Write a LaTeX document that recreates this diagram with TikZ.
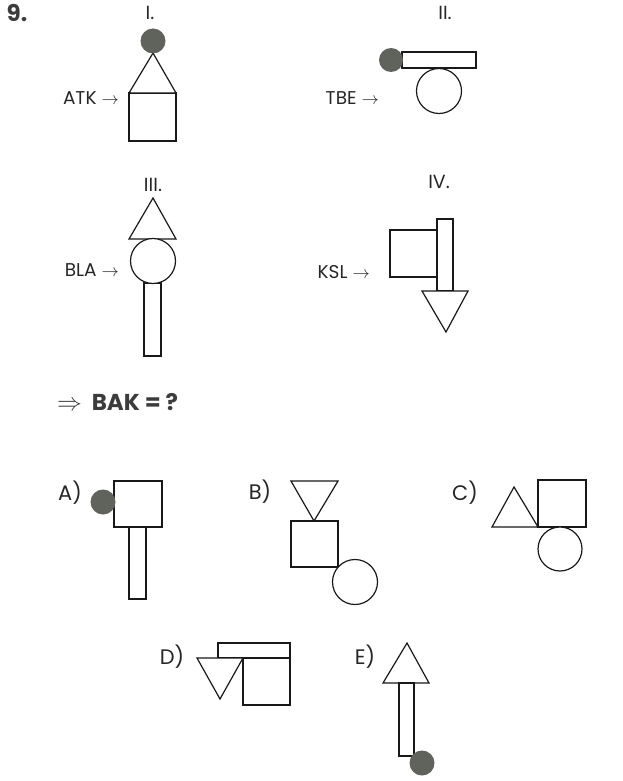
\documentclass[tikz,border=0pt]{standalone}
\usepackage{fontspec}
\setmainfont{Poppins}
\definecolor{dotgray}{RGB}{96,98,92}
\definecolor{inkgray}{RGB}{60,60,60}
\tikzset{
  fig/.style={draw=black!90, line width=1.2pt, fill=white, line join=miter},
  dot/.style={fill=dotgray, draw=none},
  lbl/.style={font=\fontsize{18.5}{22}\selectfont, text=black!85, inner sep=0pt},
  roman/.style={font=\fontsize{19}{22}\selectfont, text=black!85, inner sep=0pt},
  choice/.style={font=\fontsize{21}{24}\selectfont, text=black!85, inner sep=0pt},
  head/.style={font=\bfseries\fontsize{23}{26}\selectfont, text=inkgray, inner sep=0pt},
}
\begin{document}
\begin{tikzpicture}[x=1pt,y=-1pt]
  \useasboundingbox (0,0) rectangle (622,781);
  %% Draw the titles
  \node[head] (nine) at (17,13) {9.};
  \node[roman] (one) at (150,13) {I.};
  \node[roman] (two) at (445,13) {II.};
  \node[roman] (three) at (153,185) {III.};
  \node[roman] (four) at (439,182) {IV.};
  %% Draw the codes
  \node[lbl, anchor=east] (atk) at (119,98) {ATK $\rightarrow$};
  \node[lbl, anchor=east] (tbe) at (379,98) {TBE $\rightarrow$};
  \node[lbl, anchor=east] (bla) at (119,270) {BLA $\rightarrow$};
  \node[lbl, anchor=east] (ksl) at (370,272) {KSL $\rightarrow$};
  \node[head, anchor=west] (ask) at (57,402) {$\Rightarrow$\ \ BAK = ?};
  %% Draw the answer letters
  \node[choice] (optA) at (70,493) {A)};
  \node[choice] (optB) at (260,492) {B)};
  \node[choice] (optC) at (465,493) {C)};
  \node[choice] (optD) at (172,657) {D)};
  \node[choice] (optE) at (365,657) {E)};
  %% Figure I
  \draw[fig] (129,93) rectangle (176,141);
  \draw[fig] (129,93) -- (153,53) -- (176,93) -- cycle;
  \fill[dot] (153,41) circle (12.5);
  %% Figure II
  \draw[fig] (402,52) rectangle (476,68);
  \draw[fig] (439,91) circle (22.5);
  \fill[dot] (391,60) circle (12);
  %% Figure III
  \draw[fig] (129,239) -- (153,198) -- (176,239) -- cycle;
  \draw[fig] (144,283) rectangle (161,356);
  \draw[fig] (153,261) circle (22.5);
  %% Figure IV
  \draw[fig] (390,230) rectangle (437,277);
  \draw[fig] (437,219) rectangle (453,291);
  \draw[fig] (422,291) -- (468,291) -- (446,332) -- cycle;
  %% Option A
  \draw[fig] (114,481) rectangle (162,527);
  \draw[fig] (129,527) rectangle (146,599);
  \fill[dot] (103,502) circle (12.5);
  %% Option B
  \draw[fig] (291,481) -- (338,481) -- (314,521) -- cycle;
  \draw[fig] (291,521) rectangle (338,567);
  \draw[fig] (355,582) circle (22.5);
  %% Option C
  \draw[fig] (492,527) -- (514,487) -- (538,527) -- cycle;
  \draw[fig] (538,480) rectangle (586,527);
  \draw[fig] (560,549) circle (22);
  %% Option D
  \draw[fig] (218,643) rectangle (290,658);
  \draw[fig] (243,658) rectangle (290,705);
  \draw[fig] (197,658) -- (243,658) -- (220,699) -- cycle;
  %% Option E
  \draw[fig] (383,683) -- (407,643) -- (429,683) -- cycle;
  \draw[fig] (399,683) rectangle (414,756);
  \fill[dot] (422,763) circle (12.5);
\end{tikzpicture}
\end{document}
